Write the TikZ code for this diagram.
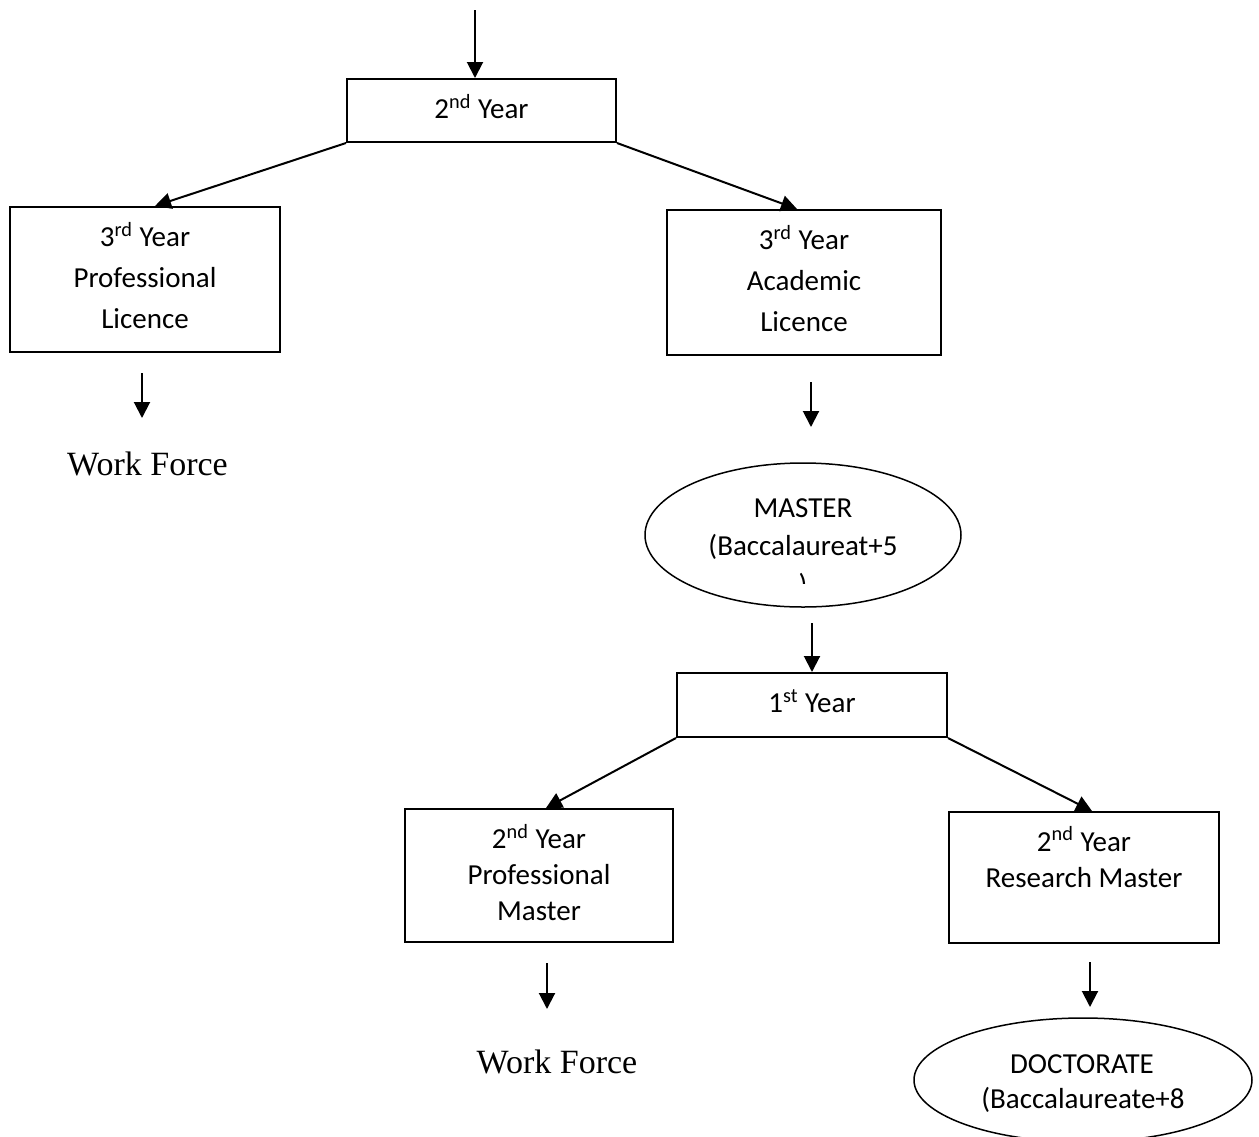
\documentclass[tikz,border=0pt]{standalone}
\usepackage{fontspec}
\setmainfont{Carlito}
\newfontfamily\wfserif{Liberation Serif}
\usetikzlibrary{shapes.geometric,arrows.meta}

\begin{document}
\begin{tikzpicture}[x=0.5pt,y=-0.5pt,
  box/.style={draw, line width=1pt, rectangle, inner sep=0pt, align=center,
              text depth=4pt, font=\fontsize{14.5}{20.5}\selectfont},
  oval/.style={draw, line width=0.75pt, ellipse, inner sep=0pt},
  lbl/.style={inner sep=0pt, anchor=base, font=\fontsize{14.5}{18}\selectfont},
  wf/.style={inner sep=0pt, anchor=base, font=\wfserif\fontsize{17}{20}\selectfont},
  flow/.style={line width=1pt, -{Triangle[length=8pt,width=8pt]}}
]
\path[use as bounding box, clip] (0,0) rectangle (1259,1136);

% licence level
\node[box, minimum width=134.5pt, minimum height=31.5pt] (y2) at (481.5,110.5) {2\textsuperscript{nd} Year};
\node[box, minimum width=135pt, minimum height=72.5pt] (licp) at (145,279.5)
  {3\textsuperscript{rd} Year\\Professional\\Licence};
\node[box, minimum width=137pt, minimum height=72.5pt] (lica) at (804,282.5)
  {3\textsuperscript{rd} Year\\Academic\\Licence};
\node[wf] (wf1) at (147.5,475) {Work Force};

% master level
\node[oval, minimum width=158pt, minimum height=72pt] (master) at (803,535) {};
\node[lbl] (mt1) at (803,517) {MASTER};
\node[lbl] (mt2) at (803,555) {(Baccalaureat+5};
\begin{scope}
  \clip (700,560) rectangle (900,583);
  \node[lbl, anchor=north] (mt3) at (803,573) {)};
\end{scope}

\node[box, minimum width=135pt, minimum height=32pt] (y1) at (812,705) {1\textsuperscript{st} Year};
\node[box, minimum width=134pt, minimum height=66.5pt, text depth=3pt,
      font=\fontsize{14.5}{18}\selectfont] (mp) at (539,875.5)
  {2\textsuperscript{nd} Year\\Professional\\Master};
\node[box, minimum width=135pt, minimum height=65.5pt] (mr) at (1084,877.5) {};
\node[lbl] (mr1) at (1084,851) {2\textsuperscript{nd} Year};
\node[lbl] (mr2) at (1084,887) {Research Master};
\node[wf] (wf2) at (557,1073) {Work Force};

% doctorate
\node[oval, minimum width=169pt, minimum height=62pt] (doc) at (1083,1080) {};
\node[lbl] (dt1) at (1082,1073) {DOCTORATE};
\node[lbl] (dt2) at (1083,1108) {(Baccalaureate+8};

% free arrow ends
\coordinate (in0) at (475,10);
\coordinate (a1s) at (142,373);
\coordinate (a1e) at (142,418);
\coordinate (a2s) at (811,382);
\coordinate (a2e) at (811,427);
\coordinate (a3s) at (812,623);
\coordinate (a4s) at (547,963);
\coordinate (a4e) at (547,1009);
\coordinate (a5s) at (1090,962);
\coordinate (a5e) at (1090,1007);

% connectors
\draw[flow] (in0) -- ([xshift=-3.25pt]y2.north);
\draw[flow] (y2.south west) -- ([xshift=5pt]licp.north);
\draw[flow] (y2.south east) -- ([xshift=-3.5pt]lica.north);
\draw[flow] (a1s) -- (a1e);
\draw[flow] (a2s) -- (a2e);
\draw[flow] (a3s) -- (y1.north);
\draw[flow] (y1.south west) -- ([xshift=3.5pt]mp.north);
\draw[flow] (y1.south east) -- ([xshift=4pt]mr.north);
\draw[flow] (a4s) -- (a4e);
\draw[flow] (a5s) -- (a5e);
\end{tikzpicture}
\end{document}
